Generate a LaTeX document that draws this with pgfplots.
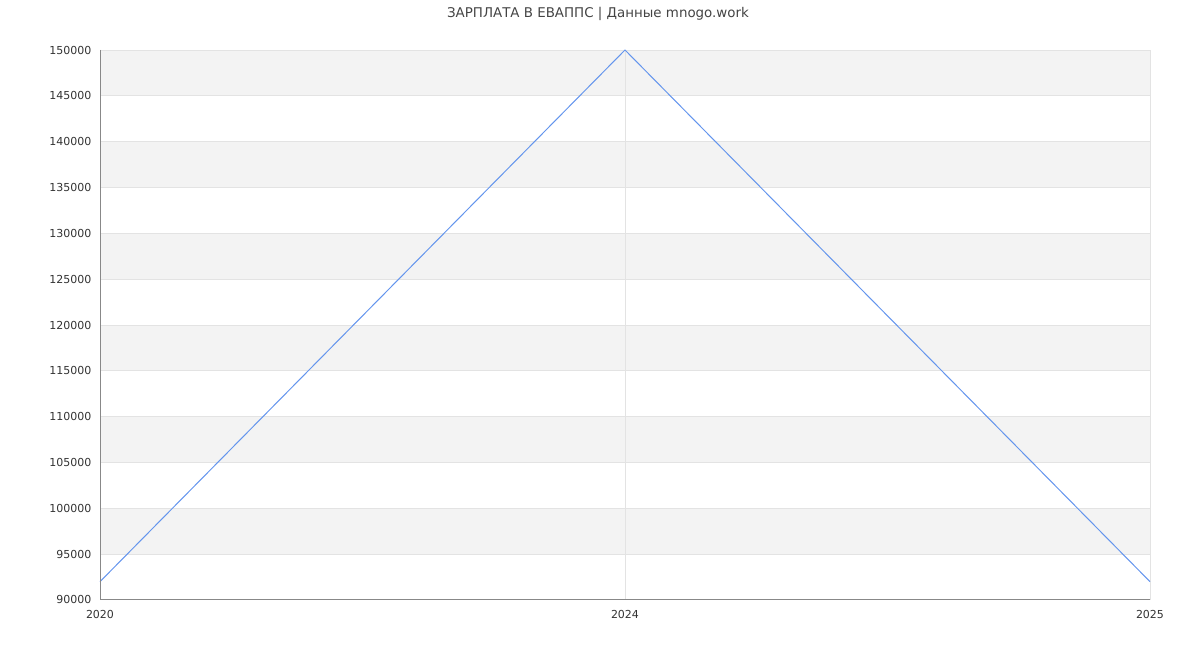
\documentclass[border=0pt]{standalone}
\usepackage{pgfplots}
\pgfplotsset{compat=1.18}
\usepackage{fontspec}
\setmainfont{DejaVu Sans}
\definecolor{band}{HTML}{F3F3F3}
\definecolor{gridc}{HTML}{E3E3E3}
\definecolor{axc}{HTML}{888888}
\definecolor{linec}{HTML}{6495ED}
\definecolor{txt}{HTML}{333333}
\definecolor{ttl}{HTML}{444444}
\begin{document}
\begin{tikzpicture}[x=1pt,y=1pt]
\path[use as bounding box] (0,0) rectangle (1200,650);
\begin{axis}[
  at={(100pt,50pt)}, anchor=south west,
  scale only axis, width=1050pt, height=550pt,
  xmin=0, xmax=2, ymin=90000, ymax=150000,
  xtick={0,1,2}, xticklabels={2020,2024,2025},
  ytick={90000,95000,100000,105000,110000,115000,120000,125000,130000,135000,140000,145000,150000},
  scaled y ticks=false,
  /pgf/number format/assume math mode=true,
  yticklabel={\pgfmathprintnumber[fixed,1000 sep={}]{\tick}},
  tick label style={font=\fontsize{11}{13}\selectfont, text=txt},
  major tick length=0pt,
  xticklabel style={yshift=-7pt},
  yticklabel style={xshift=-5pt},
  axis line style={draw=none},
  clip=false,
]
\fill[band] (axis cs:0,145000) rectangle (axis cs:2,150000);
\fill[band] (axis cs:0,135000) rectangle (axis cs:2,140000);
\fill[band] (axis cs:0,125000) rectangle (axis cs:2,130000);
\fill[band] (axis cs:0,115000) rectangle (axis cs:2,120000);
\fill[band] (axis cs:0,105000) rectangle (axis cs:2,110000);
\fill[band] (axis cs:0,95000) rectangle (axis cs:2,100000);
\draw[gridc, line width=0.8pt] (axis cs:0,95000) -- (axis cs:2,95000);
\draw[gridc, line width=0.8pt] (axis cs:0,100000) -- (axis cs:2,100000);
\draw[gridc, line width=0.8pt] (axis cs:0,105000) -- (axis cs:2,105000);
\draw[gridc, line width=0.8pt] (axis cs:0,110000) -- (axis cs:2,110000);
\draw[gridc, line width=0.8pt] (axis cs:0,115000) -- (axis cs:2,115000);
\draw[gridc, line width=0.8pt] (axis cs:0,120000) -- (axis cs:2,120000);
\draw[gridc, line width=0.8pt] (axis cs:0,125000) -- (axis cs:2,125000);
\draw[gridc, line width=0.8pt] (axis cs:0,130000) -- (axis cs:2,130000);
\draw[gridc, line width=0.8pt] (axis cs:0,135000) -- (axis cs:2,135000);
\draw[gridc, line width=0.8pt] (axis cs:0,140000) -- (axis cs:2,140000);
\draw[gridc, line width=0.8pt] (axis cs:0,145000) -- (axis cs:2,145000);
\draw[gridc, line width=0.8pt] (axis cs:0,150000) -- (axis cs:2,150000);
\draw[gridc, line width=0.8pt] (axis cs:1,90000) -- (axis cs:1,150000);
\draw[gridc, line width=0.8pt] (axis cs:2,90000) -- (axis cs:2,150000);
\addplot[linec, line width=1pt, mark=none] coordinates {(0,92000) (1,150000) (2,92000)};
\draw[axc, line width=1pt] (axis cs:0,150000) -- (axis cs:0,90000) -- (axis cs:2,90000);
\end{axis}
\node[text=ttl, font=\fontsize{13.4}{15}\selectfont] at (598,636.5) {ЗАРПЛАТА В ЕВАППС | Данные mnogo.work};
\end{tikzpicture}
\end{document}
